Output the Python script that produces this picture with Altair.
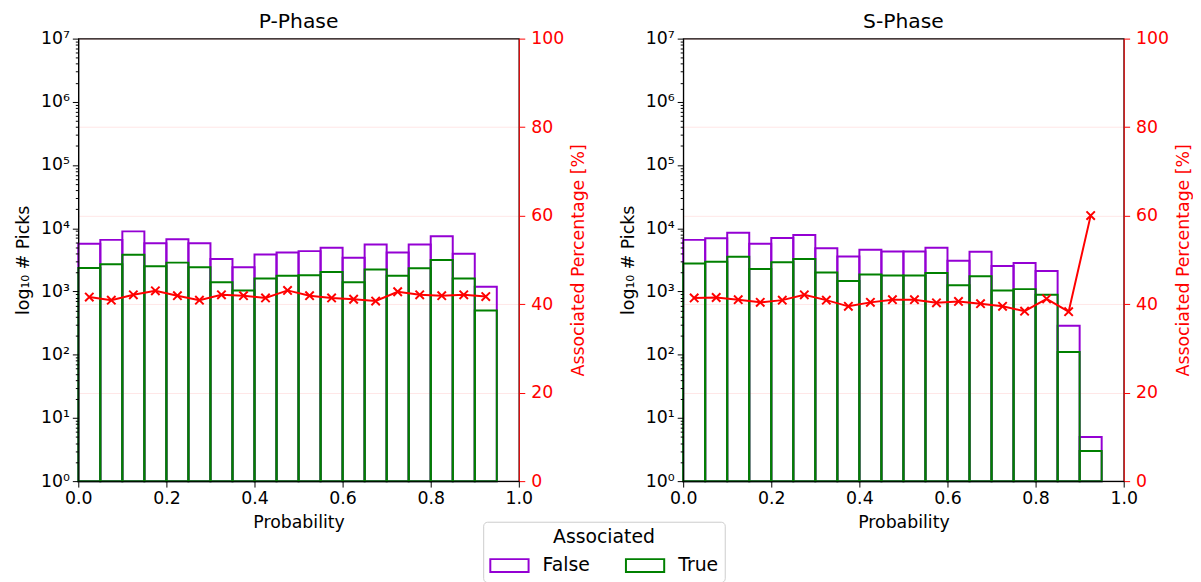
import altair as alt
import pandas as pd

# ---------------- data ----------------
bin_lo = [0.00, 0.05, 0.10, 0.15, 0.20, 0.25, 0.30, 0.35, 0.40, 0.45,
          0.50, 0.55, 0.60, 0.65, 0.70, 0.75, 0.80, 0.85, 0.90]
bin_width = 0.05

p_total = [5670, 6550, 8930, 5800, 6700, 5800, 3260, 2410, 3850, 4140,
           4350, 4900, 3420, 5530, 4140, 5530, 7460, 3950, 1190]
p_true = [2350, 2690, 3810, 2500, 2860, 2410, 1400, 1040, 1600, 1770,
          1810, 2040, 1400, 2220, 1770, 2330, 3140, 1600, 499]
p_pct = [41.6, 40.9, 42.1, 43.0, 41.9, 40.9, 42.1, 41.9, 41.4, 43.1,
         41.9, 41.4, 41.1, 40.7, 42.8, 42.1, 41.9, 42.1, 41.7]

s_total = [6550, 6940, 8510, 5670, 7040, 7830, 4840, 3590, 4570, 4290,
           4290, 4900, 3070, 4250, 2530, 2820, 2110, 287, 5]
s_true = [2760, 2960, 3550, 2270, 2890, 3260, 1990, 1460, 1850, 1790,
          1790, 1960, 1250, 1740, 1040, 1090, 889, 110, 3]
s_pct = [41.4, 41.5, 41.0, 40.4, 40.9, 42.1, 40.9, 39.5, 40.4, 41.0,
         41.0, 40.3, 40.6, 40.1, 39.5, 38.4, 41.2, 38.3, 60.0]

x_ticks = [0.0, 0.2, 0.4, 0.6, 0.8, 1.0]
pct_ticks = [0, 20, 40, 60, 80, 100]
decades = [1, 10, 100, 1000, 10000, 100000, 1000000, 10000000]
sup = ["⁰", "¹", "²", "³", "⁴", "⁵", "⁶", "⁷"]
log_ticks = [k * d for d in decades[:-1] for k in range(1, 10)] + [decades[-1]]

PURPLE = "#9400D3"
GREEN = "#008000"
RED = "#ff0000"
FONT = "DejaVu Sans"
FS = 17.5

dec_list = "[" + ",".join(str(d) for d in decades) + "]"
sup_list = "[" + ",".join("'" + s + "'" for s in sup) + "]"
is_major = f"indexof({dec_list}, datum.value) >= 0"
label_expr = f"{is_major} ? '10' + {sup_list}[indexof({dec_list}, datum.value)] : ''"

XPATH = "M-1,-1L1,1M-1,1L1,-1"
LEG_SYM = "M-1,-0.47H1.8V0.47H-1Z"


def x_axis():
    return alt.Axis(values=x_ticks, format=".1f", title="Probability",
                    labelFontSize=FS, titleFontSize=FS, titleFontWeight="normal",
                    tickSize=6, tickColor="black", domainColor="black",
                    labelColor="black", titleColor="black", grid=False,
                    labelFlush=False, labelPadding=3, titlePadding=6, zindex=1)


def panel(title, total, true, pct):
    rows = []
    for lo, n in zip(bin_lo, total):
        rows.append({"lo": lo, "hi": lo + bin_width, "n": n, "base": 1, "Associated": "False"})
    for lo, n in zip(bin_lo, true):
        rows.append({"lo": lo, "hi": lo + bin_width, "n": n, "base": 1, "Associated": "True"})
    bars_df = pd.DataFrame(rows)
    line_df = pd.DataFrame({"p": [lo + bin_width / 2 for lo in bin_lo], "pct": pct})

    xscale = alt.Scale(domain=[0, 1], nice=False, zero=False)

    bars = alt.Chart(bars_df).mark_bar(filled=False, strokeWidth=2).encode(
        x=alt.X("lo:Q", scale=xscale, axis=x_axis()),
        x2="hi:Q",
        y=alt.Y("n:Q",
                scale=alt.Scale(type="log", domain=[1, 1e7], nice=False),
                axis=alt.Axis(values=log_ticks, labelExpr=label_expr,
                              title="log₁₀ # Picks", titleFontSize=FS,
                              titleFontWeight="normal", labelFontSize=FS,
                              tickSize={"condition": {"test": is_major, "value": 6}, "value": 3},
                              tickColor="black", domainColor="black", labelColor="black",
                              titleColor="black", grid=False, labelPadding=3,
                              titlePadding=8, zindex=1)),
        y2="base:Q",
        stroke=alt.Stroke("Associated:N",
                          scale=alt.Scale(domain=["False", "True"], range=[PURPLE, GREEN]),
                          legend=alt.Legend(title="Associated", orient="none",
                                            legendX=409, legendY=488,
                                            direction="horizontal", titleAnchor="middle",
                                            titleFontSize=19, titleFontWeight="normal",
                                            labelFontSize=19, symbolType=LEG_SYM,
                                            symbolSize=762, symbolStrokeWidth=2,
                                            symbolFillColor="white",
                                            strokeColor="#cccccc", fillColor="white",
                                            cornerRadius=4, padding=6,
                                            columnPadding=32, labelOffset=24,
                                            titlePadding=4)),
    )

    pct_scale = alt.Scale(domain=[0, 100], nice=False)
    line = alt.Chart(line_df).mark_line(color=RED, strokeWidth=2).encode(
        x=alt.X("p:Q", scale=xscale, axis=x_axis()),
        y=alt.Y("pct:Q", scale=pct_scale,
                axis=alt.Axis(orient="right", values=pct_ticks,
                              title="Associated Percentage [%]", titleAngle=270,
                              titleBaseline="top",
                              titleFontSize=FS, titleFontWeight="normal",
                              labelFontSize=FS, labelColor=RED, titleColor=RED,
                              tickColor=RED, domainColor=RED, tickSize=6,
                              grid=True, gridColor=RED, gridOpacity=0.1,
                              labelPadding=6, titlePadding=6)),
    )
    pts = alt.Chart(line_df).mark_point(shape=XPATH, filled=False, color=RED,
                                        strokeWidth=2, size=72, opacity=1).encode(
        x=alt.X("p:Q", scale=xscale, axis=x_axis()),
        y=alt.Y("pct:Q", scale=pct_scale),
    )

    return alt.layer(bars, alt.layer(line, pts)).resolve_scale(y="independent").properties(
        width=445, height=447,
        title=alt.Title(title, fontSize=20.5, fontWeight="normal", anchor="middle",
                        frame="group", offset=-3, color="black"),
    )


left = panel("P-Phase", p_total, p_true, p_pct)
right = panel("S-Phase", s_total, s_true, s_pct)

chart = alt.hconcat(left, right, spacing=31).properties(
    padding={"left": 6, "top": 0, "right": 0, "bottom": 0}
).configure(font=FONT).configure_view(stroke="black", strokeWidth=1.2)

chart.save("out.html", embed_options={"renderer": "svg", "actions": False})
